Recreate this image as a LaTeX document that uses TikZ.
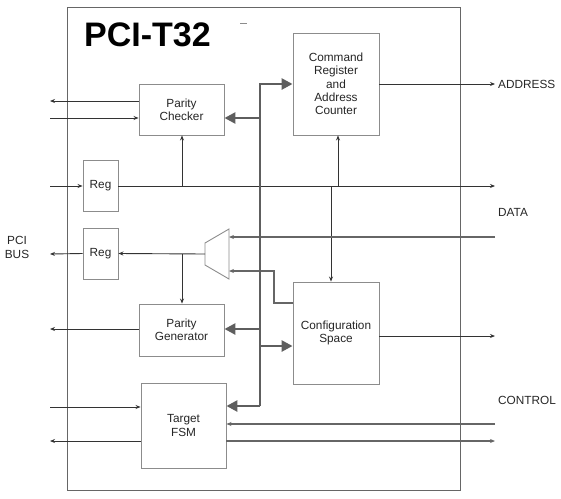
\documentclass[tikz,border=0pt]{standalone}
\usepackage{fontspec}
\setmainfont{Liberation Sans}
\usetikzlibrary{arrows.meta}
\definecolor{boxgray}{HTML}{8C8C8C}
\definecolor{linedark}{HTML}{333333}
\definecolor{linegray}{HTML}{666666}
\definecolor{busgray}{HTML}{5E5E5E}
\begin{document}
\begin{tikzpicture}[x=1pt,y=-1pt,
  blk/.style={draw=boxgray,line width=0.9pt,fill=white,inner sep=0pt,align=center,
    font=\fontsize{11.8}{13.3}\selectfont,text=black!85},
  sig/.style={draw=linedark,line width=0.9pt},
  sigg/.style={draw=linegray,line width=1.1pt},
  tip/.style={-{Stealth[length=5pt,width=4pt]}},
  bus/.style={draw=busgray,line width=2.6pt},
  btip/.style={-{Triangle[length=11pt,width=11pt]}},
  lbl/.style={font=\fontsize{11.8}{14}\selectfont,text=black!85,align=center,inner sep=0pt}]
\useasboundingbox (0,0) rectangle (561,498);
% outer box
\draw[draw=linegray,line width=0.9pt] (67,7) rectangle (460,490);
\node[anchor=west,inner sep=0pt,font=\fontsize{34}{34}\bfseries\selectfont] (title) at (84,35) {PCI-T32};
\coordinate (dashl) at (240,23); \coordinate (dashr) at (247,23);
\draw[draw=boxgray,line width=0.8pt] (dashl) -- (dashr);
% blocks
\node[blk,minimum width=85pt,minimum height=51pt] (pc) at (181.5,109.5) {Parity\\Checker};
\node[blk,minimum width=86pt,minimum height=102pt] (cmd) at (336,84) {Command\\Register\\and\\Address\\Counter};
\node[blk,minimum width=35pt,minimum height=51pt] (r1) at (100.5,186) {Reg};
\node[blk,minimum width=35pt,minimum height=51pt] (r2) at (100.5,253.5) {Reg};
\node[blk,minimum width=85pt,minimum height=52pt] (pg) at (181.5,330) {Parity\\Generator};
\node[blk,minimum width=85pt,minimum height=85pt] (fsm) at (183.5,425.5) {Target\\FSM};
\node[blk,minimum width=86pt,minimum height=102pt] (cfg) at (336,333) {Configuration\\Space};
% mux
\coordinate (m1) at (205,243); \coordinate (m2) at (229,229);
\coordinate (m3) at (229,279); \coordinate (m4) at (205,265);
\draw[draw=boxgray,line width=0.9pt,fill=white] (m1) -- (m2) -- (m3) -- (m4) -- cycle;
\coordinate (mout) at (205,254);
\coordinate (min1) at (229,237);
\coordinate (min2) at (229,271);
% labels
\node[lbl] (pcibus) at (17,247) {PCI\\BUS};
\node[lbl,anchor=west] (addr) at (498,84) {ADDRESS};
\node[lbl,anchor=west] (data) at (498,212) {DATA};
\node[lbl,anchor=west] (ctrl) at (498,400) {CONTROL};
% left-side end points
\coordinate (Lpc1) at (50,101);
\coordinate (Lpc2) at (50,118);
\coordinate (Ld) at (50,186);
\coordinate (Lr2) at (50,254);
\coordinate (Lpg) at (50,329);
\coordinate (Lf1) at (50,407);
\coordinate (Lf2) at (50,441);
% right-side end points
\coordinate (Radr) at (495,84);
\coordinate (Rd1) at (495,186);
\coordinate (Rd2) at (495,237);
\coordinate (Rcfg) at (495,336);
\coordinate (Rf1) at (495,424);
\coordinate (Rf2) at (495,441);
% parity checker I/O
\draw[sig,tip] (pc.west|-Lpc1) -- (Lpc1);
\draw[sig,tip] (Lpc2) -- (pc.west|-Lpc2);
% data path
\draw[sig,tip] (Ld) -- (r1.west);
\draw[sig,tip] (r1.east) -- (Rd1);
\coordinate (dpc) at (182,186);
\coordinate (dcmd) at (338,186);
\coordinate (dcfg) at (331,186);
\draw[sig,tip] (dpc) -- (pc.south-|dpc);
\draw[sig,tip] (dcmd) -- (cmd.south-|dcmd);
\draw[sig,tip] (dcfg) -- (cfg.north-|dcfg);
% address
\draw[sig,tip] (cmd.east|-Radr) -- (Radr);
% data in to mux
\draw[sigg,tip] (Rd2) -- (min1);
% config to mux
\coordinate (cm1) at (274,303);
\draw[sigg,tip] (cfg.west|-cm1) -- (cm1) |- (min2);
% mux out
\draw[sig,tip] (mout) -- (r2.east);
\draw[sig,tip] (r2.west) -- (Lr2);
\coordinate (mpg) at (182,254);
\draw[sig,tip] (mpg) -- (pg.north-|mpg);
% parity generator out
\draw[sig,tip] (pg.west|-Lpg) -- (Lpg);
% config out
\draw[sig,tip] (cfg.east|-Rcfg) -- (Rcfg);
% target FSM
\draw[sig,tip] (Lf1) -- (fsm.west|-Lf1);
\draw[sig,tip] (fsm.west|-Lf2) -- (Lf2);
\draw[sigg,tip] (Rf1) -- (fsm.east|-Rf1);
\draw[sigg,tip] (fsm.east|-Rf2) -- (Rf2);
% internal bus
\coordinate (bt) at (260,84);
\coordinate (bb) at (260,406);
\coordinate (bpc) at (260,118);
\coordinate (bpg) at (260,329);
\coordinate (bcfg) at (260,346);
\draw[bus,btip] (bb) -- (bt) -- (cmd.west|-bt);
\draw[bus,btip] (bb) -- (fsm.east|-bb);
\draw[bus,btip] (bpc) -- (pc.east|-bpc);
\draw[bus,btip] (bpg) -- (pg.east|-bpg);
\draw[bus,btip] (bcfg) -- (cfg.west|-bcfg);
\end{tikzpicture}
\end{document}
